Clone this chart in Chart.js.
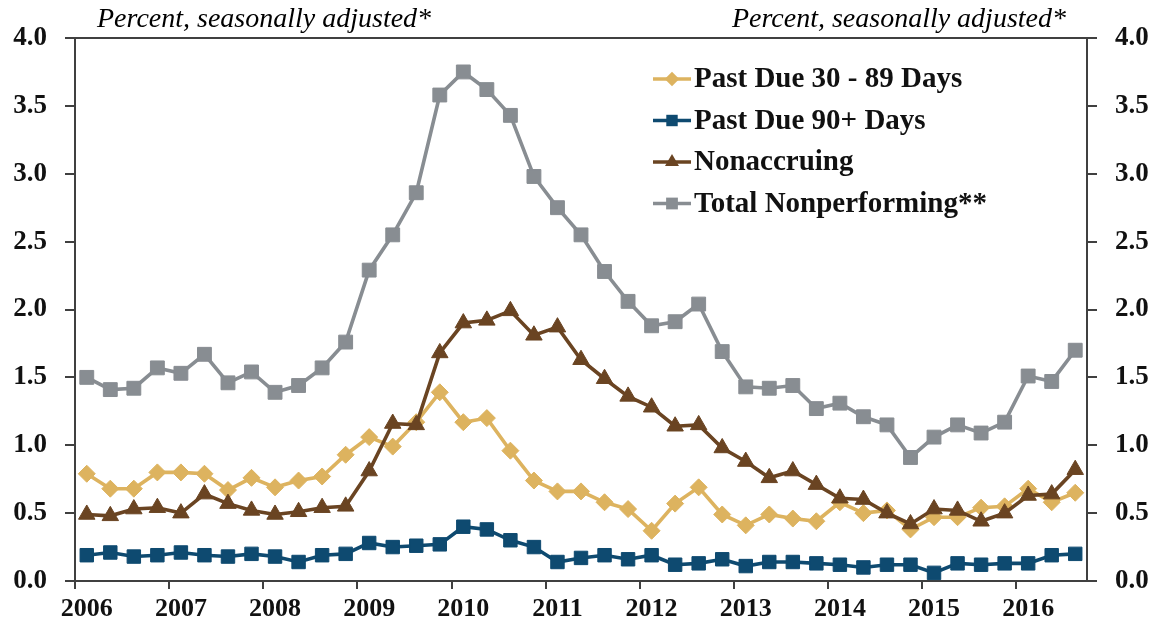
<!DOCTYPE html>
<html>
<head>
<meta charset="utf-8">
<script src="https://cdn.jsdelivr.net/npm/chart.js@4.4.1/dist/chart.umd.min.js"></script>
<style>
  html, body { margin: 0; padding: 0; background: #fff; }
  canvas { display: block; }
</style>
</head>
<body>
<canvas id="myChart" width="1160" height="635"></canvas>
<script>
const quarters = [
  '2006Q1','2006Q2','2006Q3','2006Q4','2007Q1','2007Q2','2007Q3','2007Q4',
  '2008Q1','2008Q2','2008Q3','2008Q4','2009Q1','2009Q2','2009Q3','2009Q4',
  '2010Q1','2010Q2','2010Q3','2010Q4','2011Q1','2011Q2','2011Q3','2011Q4',
  '2012Q1','2012Q2','2012Q3','2012Q4','2013Q1','2013Q2','2013Q3','2013Q4',
  '2014Q1','2014Q2','2014Q3','2014Q4','2015Q1','2015Q2','2015Q3','2015Q4',
  '2016Q1','2016Q2','2016Q3'
]

const pastDue30 = [0.79,0.68,0.68,0.80,0.80,0.79,0.67,0.76,0.69,0.74,
  0.77,0.93,1.06,0.99,1.17,1.39,1.17,1.20,0.96,0.74,
  0.66,0.66,0.58,0.53,0.37,0.57,0.69,0.49,0.41,0.49,
  0.46,0.44,0.58,0.50,0.52,0.38,0.47,0.47,0.54,0.55,
  0.68,0.58,0.65]

const pastDue90 = [0.19,0.21,0.18,0.19,0.21,0.19,0.18,0.20,0.18,0.14,
  0.19,0.20,0.28,0.25,0.26,0.27,0.40,0.38,0.30,0.25,
  0.14,0.17,0.19,0.16,0.19,0.12,0.13,0.16,0.11,0.14,
  0.14,0.13,0.12,0.10,0.12,0.12,0.06,0.13,0.12,0.13,
  0.13,0.19,0.20]

const nonaccruing = [0.49,0.48,0.53,0.54,0.50,0.64,0.57,0.52,0.49,0.51,
  0.54,0.55,0.81,1.16,1.15,1.68,1.90,1.92,1.99,1.81,
  1.87,1.63,1.49,1.36,1.28,1.14,1.15,0.98,0.88,0.76,
  0.81,0.71,0.61,0.60,0.50,0.42,0.53,0.52,0.44,0.50,
  0.63,0.64,0.82]

const totalNonperforming = [1.50,1.41,1.42,1.57,1.53,1.67,1.46,1.54,1.39,1.44,
  1.57,1.76,2.29,2.55,2.86,3.58,3.75,3.62,3.43,2.98,
  2.75,2.55,2.28,2.06,1.88,1.91,2.04,1.69,1.43,1.42,
  1.44,1.27,1.31,1.21,1.15,0.91,1.06,1.15,1.09,1.17,
  1.51,1.47,1.70]

const yTicks = [0, 0.5, 1, 1.5, 2, 2.5, 3, 3.5, 4]
const unitNote = 'Percent, seasonally adjusted*'

const SERIF = "'Liberation Serif', 'Times New Roman', serif"
const AXIS = '#404040'
Chart.defaults.font.family = SERIF
Chart.defaults.color = '#111'

function marker(ctx, style, x, y, r, color) {
  ctx.save()
  ctx.fillStyle = color
  ctx.beginPath()
  if (style === 'rectRot') {
    ctx.moveTo(x, y - r); ctx.lineTo(x + r, y); ctx.lineTo(x, y + r); ctx.lineTo(x - r, y)
  } else if (style === 'triangle') {
    ctx.moveTo(x, y - r)
    ctx.lineTo(x + r * 0.866, y + r * 0.5)
    ctx.lineTo(x - r * 0.866, y + r * 0.5)
  } else {
    const s = r * 0.707
    ctx.rect(x - s, y - s, 2 * s, 2 * s)
  }
  ctx.closePath()
  ctx.fill()
  ctx.restore()
}

// legend inside plot + unit notes above both axes
const extras = {
  id: 'extras',
  afterDraw(chart) {
    const ctx = chart.ctx
    ctx.save()
    ctx.fillStyle = '#000'
    ctx.font = 'italic 28px ' + SERIF
    ctx.textBaseline = 'alphabetic'
    ctx.textAlign = 'left'
    ctx.fillText(unitNote, 97, 27)
    ctx.textAlign = 'right'
    ctx.fillText(unitNote, 1066, 27)

    ctx.font = 'bold 29px ' + SERIF
    ctx.textAlign = 'left'
    ctx.textBaseline = 'middle'
    chart.data.datasets.forEach((ds, i) => {
      const y = 79 + i * 41.5
      ctx.strokeStyle = ds.borderColor
      ctx.lineWidth = 3.5
      ctx.beginPath()
      ctx.moveTo(653, y)
      ctx.lineTo(691, y)
      ctx.stroke()
      marker(ctx, ds.pointStyle, 672, y, ds.pointRadius * 0.85, ds.borderColor)
      ctx.fillStyle = '#111'
      ctx.fillText(ds.label, 694, y + 1)
    })
    ctx.restore()
  }
}

const mk = (label, data, color, style, radius, order) => ({
  label: label,
  data: data,
  borderColor: color,
  backgroundColor: color,
  pointBackgroundColor: color,
  pointBorderColor: color,
  pointStyle: style,
  pointRadius: radius,
  pointBorderWidth: 1,
  borderWidth: 3.6,
  tension: 0,
  order: order
})

const myChart = new Chart(document.getElementById('myChart'), {
  type: 'line',
  data: {
    labels: quarters,
    datasets: [
      mk('Past Due 30 - 89 Days', pastDue30, '#DDB35F', 'rectRot', 8.5, 2),
      mk('Past Due 90+ Days', pastDue90, '#0E4A70', 'rect', 9.5, 3),
      mk('Nonaccruing', nonaccruing, '#6A4422', 'triangle', 9.5, 1),
      mk('Total Nonperforming**', totalNonperforming, '#888D92', 'rect', 9.8, 0)
    ]
  },
  plugins: [extras],
  options: {
    responsive: false,
    animation: false,
    layout: { padding: { top: 38, left: 0, right: 0, bottom: 0 } },
    plugins: {
      legend: { display: false },
      tooltip: { enabled: false }
    },
    scales: {
      x: {
        offset: true,
        afterFit: s => { s.height = 54 },
        grid: {
          offset: true,
          drawOnChartArea: false,
          tickLength: 8,
          lineWidth: 2,
          color: c => (c.index % 4 === 0 ? AXIS : 'rgba(0,0,0,0)')
        },
        border: { display: true, color: AXIS, width: 2 },
        ticks: {
          autoSkip: false,
          maxRotation: 0,
          padding: 5,
          color: '#111',
          font: { size: 26, weight: 'bold' },
          callback: function (v, i) {
            const q = quarters[i]
            return q.endsWith('Q1') ? q.slice(0, 4) : ''
          }
        }
      },
      y: {
        position: 'left',
        min: 0,
        max: 4,
        afterFit: s => { s.width = 75 },
        afterBuildTicks: s => { s.ticks = yTicks.map(v => ({ value: v })) },
        grid: {
          tickLength: 10,
          lineWidth: 2,
          color: c => (c.tick && c.tick.value === 4 ? AXIS : 'rgba(0,0,0,0)'),
          tickColor: AXIS
        },
        border: { display: true, color: AXIS, width: 2 },
        ticks: {
          padding: 18,
          color: '#111',
          font: { size: 27, weight: 'bold' },
          callback: v => v.toFixed(1)
        }
      },
      y2: {
        position: 'right',
        min: 0,
        max: 4,
        afterFit: s => { s.width = 73 },
        afterBuildTicks: s => { s.ticks = yTicks.map(v => ({ value: v })) },
        grid: {
          drawOnChartArea: false,
          tickLength: 10,
          lineWidth: 2,
          color: AXIS
        },
        border: { display: true, color: AXIS, width: 2 },
        ticks: {
          padding: 18,
          color: '#111',
          font: { size: 27, weight: 'bold' },
          callback: v => v.toFixed(1)
        }
      }
    }
  }
})
</script>
</body>
</html>
